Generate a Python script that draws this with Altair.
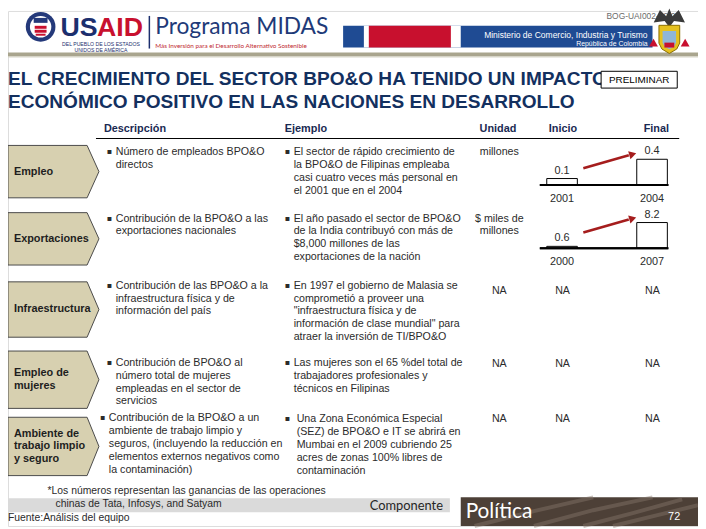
import altair as alt
import pandas as pd

# ---------------- data ----------------
title_lines = ["EL CRECIMIENTO DEL SECTOR BPO&O HA TENIDO UN IMPACTO",
               "ECONÓMICO POSITIVO EN LAS NACIONES EN DESARROLLO"]
col_headers = ["Descripción", "Ejemplo", "Unidad", "Inicio", "Final"]
row_labels = [["Empleo"], ["Exportaciones"], ["Infraestructura"],
              ["Empleo de", "mujeres"], ["Ambiente de", "trabajo limpio", "y seguro"]]
descriptions = [
    ["Número de empleados BPO&O", "directos"],
    ["Contribución de la BPO&O a las", "exportaciones nacionales"],
    ["Contribución de las BPO&O a la", "infraestructura física y de", "información del país"],
    ["Contribución de BPO&O  al", "número total de mujeres", "empleadas en el sector de", "servicios"],
    ["Contribución de la BPO&O a un", "ambiente de trabajo limpio y",
     "seguros, (incluyendo la reducción en", "elementos externos negativos como", "la contaminación)"],
]
examples = [
    ["El sector de rápido crecimiento de", "la BPO&O de Filipinas empleaba",
     "casi cuatro veces más personal en", "el 2001 que en el 2004"],
    ["El año pasado el sector de BPO&O", "de la India contribuyó con más de",
     "$8,000 millones de las", "exportaciones de la nación"],
    ["En 1997 el gobierno de Malasia se", "comprometió a proveer una", "\"infraestructura física y de",
     "información de clase mundial\" para", "atraer la inversión de TI/BPO&O"],
    ["Las mujeres son el 65 %del total de", "trabajadores profesionales y", "técnicos en Filipinas"],
    ["Una Zona Económica Especial", "(SEZ) de BPO&O e IT se abrirá en", "Mumbai en el 2009 cubriendo 25",
     "acres de zonas 100% libres de", "contaminación"],
]
units = [["millones"], ["$ miles de", "millones"], ["NA"], ["NA"], ["NA"]]
inicio_text = [None, None, "NA", "NA", "NA"]
final_text = [None, None, "NA", "NA", "NA"]

emp_years = ["2001", "2004"]
emp_values = [0.1, 0.4]
exp_years = ["2000", "2007"]
exp_values = [0.6, 8.2]

footnote = ["*Los números representan las ganancias de las operaciones",
            "chinas de Tata, Infosys, and Satyam"]
source = "Fuente:Análisis del equipo"

# ---------------- layout ----------------
OX, OY = 8, 8
W, H = 698, 521
BODY = "Liberation Sans, Arial, sans-serif"
HUMAN = "Lato, Open Sans, sans-serif"
NAVY = "#13305f"
TXT = "#2b2b2b"


def T(rows, **kw):
    df = pd.DataFrame(rows, columns=["x", "y", "text"])
    df["x"] = df["x"] - OX
    df["y"] = df["y"] - OY
    kw.setdefault("align", "left")
    kw.setdefault("baseline", "middle")
    return alt.Chart(df).mark_text(**kw).encode(
        x=alt.X("x:Q", scale=None), y=alt.Y("y:Q", scale=None), text="text:N")


def R(rows, **kw):
    df = pd.DataFrame(rows, columns=["x", "x2", "y", "y2"])
    df[["x", "x2"]] = df[["x", "x2"]] - OX
    df[["y", "y2"]] = df[["y", "y2"]] - OY
    return alt.Chart(df).mark_rect(**kw).encode(
        x=alt.X("x:Q", scale=None), x2="x2:Q", y=alt.Y("y:Q", scale=None), y2="y2:Q")


def L(rows, **kw):
    df = pd.DataFrame(rows, columns=["x", "y", "x2", "y2"])
    df[["x", "x2"]] = df[["x", "x2"]] - OX
    df[["y", "y2"]] = df[["y", "y2"]] - OY
    return alt.Chart(df).mark_rule(**kw).encode(
        x=alt.X("x:Q", scale=None), x2="x2:Q", y=alt.Y("y:Q", scale=None), y2="y2:Q")


def P(rows, **kw):
    df = pd.DataFrame(rows, columns=["x", "y"])
    df["x"] = df["x"] - OX
    df["y"] = df["y"] - OY
    return alt.Chart(df).mark_point(**kw).encode(
        x=alt.X("x:Q", scale=None), y=alt.Y("y:Q", scale=None))


def PL(paths, **kw):
    rows = []
    for i, pts in enumerate(paths):
        for j, (x, y) in enumerate(pts):
            rows.append({"id": i, "o": j, "x": x - OX, "y": y - OY})
    return alt.Chart(pd.DataFrame(rows)).mark_line(**kw).encode(
        x=alt.X("x:Q", scale=None), y=alt.Y("y:Q", scale=None), detail="id:N", order="o:Q")


layers = []

# ---- header ----
layers.append(R([[347, 660, 23, 45]], color="#1f4b93"))
layers.append(R([[368, 466, 23, 45]], color="white"))
layers.append(R([[373, 456, 23, 45]], color="#c8102e"))
layers.append(R([[0, 706, 50, 54]], color="#a9a58e"))
layers.append(R([[0, 706, 54, 55]], color="#d8d5c8"))
# USAID seal
layers.append(P([[41, 24]], shape="circle", size=900, filled=True, color="#24397a", opacity=1))
layers.append(P([[41, 24]], shape="circle", size=470, filled=True, color="white", opacity=1))
layers.append(R([[34, 48, 15, 20]], color="#24397a"))
layers.append(R([[35, 47, 23, 26]], color="#c8102e"))
layers.append(R([[35, 47, 27, 30]], color="#c8102e"))
layers.append(R([[36, 46, 31, 33]], color="#c8102e"))
layers.append(T([[61, 25, "US"]], font=BODY, fontSize=27, fontWeight="bold", color="#1c2f6e"))
layers.append(T([[98, 25, "AID"]], font=BODY, fontSize=27, fontWeight="bold", color="#c8102e"))
layers.append(T([[102, 41, "DEL PUEBLO DE LOS ESTADOS"], [102, 47.5, "UNIDOS DE AMÉRICA"]],
                align="center", font=BODY, fontSize=5.2, color="#1c2f6e"))
layers.append(L([[151, 13, 151, 46]], color="#1c2f6e", strokeWidth=1.5))
layers.append(T([[157, 24, "Programa MIDAS"]], font=HUMAN, fontSize=23, color="#1e3a78"))
layers.append(T([[157, 43, "Más Inversión para el Desarrollo Alternativo Sostenible"]],
                font=HUMAN, fontSize=6.4, color="#c0292f"))
layers.append(T([[688, 13, "BOG-UAI002-49-01"]], align="right", font=BODY, fontSize=8.5, color="#6b6b6b"))
layers.append(T([[655, 32, "Ministerio de Comercio, Industria y Turismo"]], align="right",
                font=BODY, fontSize=8.6, color="white"))
layers.append(T([[655, 41, "República de Colombia"]], align="right", font=BODY, fontSize=7, color="white"))
# coat of arms (simplified)
layers.append(P([[677, 15]], shape="M-1,0.3 L-0.6,-0.5 L-0.2,-0.1 L0,-0.6 L0.2,-0.1 L0.6,-0.5 L1,0.3 L0.3,0.2 L0,0.6 L-0.3,0.2 Z",
                size=1000, filled=True, color="#3a3a3a", opacity=1))
SHIELD = "M-0.7,-0.9 L0.7,-0.9 L0.7,0.3 L0.5,0.7 L0,1 L-0.5,0.7 L-0.7,0.3 Z"
layers.append(P([[677, 36]], shape=SHIELD, size=900, filled=True, fill="#e6c11e", stroke="#8a6d00",
                strokeWidth=1, opacity=1))
layers.append(P([[677, 37]], shape=SHIELD, size=380, filled=True, color="#8fb6d8", opacity=1))
layers.append(R([[672, 682, 40, 45]], color="#c8102e"))
layers.append(P([[661, 40], [693, 40]], shape="triangle-up", size=80, filled=True, color="#c8102e", opacity=1))

# ---- title ----
layers.append(T([[8, 77, title_lines[0]], [8, 100, title_lines[1]]],
                font=BODY, fontSize=19.3, fontWeight="bold", color=NAVY))
layers.append(R([[608, 685, 69, 86]], fill="white", stroke="black", strokeWidth=1))
layers.append(T([[646.5, 78, "PRELIMINAR"]], align="center", font=BODY, fontSize=10, color="black"))

# ---- column headers ----
hdr_x = [105, 288, 485, 555, 651]
layers.append(T([[x, 127, t] for x, t in zip(hdr_x, col_headers)],
                font=BODY, fontSize=11, fontWeight="bold", color="#1a2a52"))
layers.append(L([[97, 137, 687, 137]], color="black", strokeWidth=1))

# ---- chevrons (pixel-unit custom symbols: size 4 -> 1 unit = 1 px) ----
row_top = [144, 212, 282, 352, 419]
row_bot = [197, 265, 338, 410, 478]
chev = []
for t, b in zip(row_top, row_bot):
    h = (b - t) / 2
    path = f"M-40,{-h} L40,{-h} L52,0 L40,{h} L-40,{h} Z"
    chev.append({"x": 48 - OX, "y": (t + b) / 2 - OY, "path": path})
layers.append(alt.Chart(pd.DataFrame(chev)).mark_point(
    filled=True, fill="#d7d0b0", stroke="#4a4a4a", strokeWidth=1, opacity=1, fillOpacity=1, size=4).encode(
    x=alt.X("x:Q", scale=None), y=alt.Y("y:Q", scale=None), shape=alt.Shape("path:N", scale=None)))
lab_rows = []
for lines, t, b in zip(row_labels, row_top, row_bot):
    m = (t + b) / 2
    n = len(lines)
    for k, s in enumerate(lines):
        lab_rows.append([14, m + (k - (n - 1) / 2) * 13, s])
layers.append(T(lab_rows, font=BODY, fontSize=11, fontWeight="bold", color="#1e1e1e"))

# ---- description / example columns ----
LH = 13
desc_y0 = [151, 218, 286, 364, 420]
ex_y0 = [151, 218, 286, 364, 421]
desc_bx = [108, 108, 108, 108, 101]
desc_tx = [117, 117, 117, 117, 110]
ex_bx = [288, 288, 288, 288, 288]
ex_tx = [297, 297, 297, 297, 300]
body_rows, bullet_rows = [], []
for i in range(5):
    bullet_rows.append([desc_bx[i], desc_y0[i], "▪"])
    bullet_rows.append([ex_bx[i], ex_y0[i], "▪"])
    for k, s in enumerate(descriptions[i]):
        body_rows.append([desc_tx[i], desc_y0[i] + k * LH, s])
    for k, s in enumerate(examples[i]):
        body_rows.append([ex_tx[i], ex_y0[i] + k * LH, s])
layers.append(T(body_rows, font=BODY, fontSize=10.8, color=TXT))
layers.append(T(bullet_rows, font="DejaVu Sans", fontSize=8, color=TXT))

unit_rows = []
unit_y = [151, 218, 291, 365, 421]
for i in range(5):
    for k, s in enumerate(units[i]):
        unit_rows.append([505, unit_y[i] + k * LH, s])
    if inicio_text[i]:
        unit_rows.append([569, unit_y[i], inicio_text[i]])
    if final_text[i]:
        unit_rows.append([660, unit_y[i], final_text[i]])
layers.append(T(unit_rows, align="center", font=BODY, fontSize=10.8, color=TXT))


# ---- mini bar charts ----
def mini(years, values, base_y, top_y):
    df = pd.DataFrame({"year": years, "value": values,
                       "label": [f"{v:g}" for v in values]})
    df["zero"] = 0.0
    xs = alt.X("year:N", sort=None,
               scale=alt.Scale(domain=years, range=[553 - OX, 675 - OX], paddingInner=0.66, paddingOuter=0),
               axis=None)
    ysc = alt.Scale(domain=[0, max(values)], range=[base_y - OY, top_y - OY], nice=False, zero=True)
    base = alt.Chart(df)
    bars = base.mark_bar(fill="white", stroke="black", strokeWidth=1, opacity=1).encode(
        x=xs, y=alt.Y("value:Q", scale=ysc, axis=None), y2=alt.Y2("zero:Q"))
    axis_line = base.mark_rule(color="black", strokeWidth=2.2).encode(
        x=alt.value(546 - OX), x2=alt.value(676 - OX), y=alt.Y("zero:Q", scale=ysc, axis=None))
    vals = base.mark_text(baseline="bottom", dy=-3, font=BODY, fontSize=11, color=TXT).encode(
        x=xs, y=alt.Y("value:Q", scale=ysc, axis=None), text="label:N")
    yrs = base.mark_text(baseline="middle", dy=14, font=BODY, fontSize=11, color=TXT).encode(
        x=xs, y=alt.Y("zero:Q", scale=ysc, axis=None), text="year:N")
    return alt.layer(bars, axis_line, vals, yrs)


minis = alt.layer(mini(emp_years, emp_values, 184, 158),
                  mini(exp_years, exp_values, 248, 222)).resolve_scale(x="independent", y="independent")
layers.append(minis)

# arrows
layers.append(L([[590, 167, 636, 154], [590, 232, 636, 219]], color="#a51d1d", strokeWidth=2.6))
layers.append(P([[640, 153], [640, 218]], shape="triangle-right", angle=344, size=70, filled=True,
                color="#a51d1d", opacity=1))

# ---- footer ----
layers.append(R([[0, 455, 501, 515]], color="#dadada"))
layers.append(T([[48, 494, footnote[0]], [56, 507, footnote[1]], [8, 521, source]],
                font=BODY, fontSize=10.5, color=TXT))
layers.append(T([[448, 509, "Componente"]], align="right", font=HUMAN, fontSize=13, color="#262626"))
layers.append(R([[466, 706, 500, 529]], color="#4d4037"))
layers.append(PL([[(480, 529), (540, 514), (600, 500)],
                  [(540, 529), (600, 513), (660, 500)],
                  [(590, 529), (640, 516), (690, 502)],
                  [(620, 529), (665, 518), (706, 508)]],
                 color="#85766a", strokeWidth=4, opacity=0.45))
layers.append(T([[471, 515, "Política"]], font=HUMAN, fontSize=21, color="white"))
layers.append(T([[688, 520, "72"]], align="right", font=BODY, fontSize=11, color="white"))

chart = alt.layer(*layers).properties(
    width=W, height=H, autosize=alt.AutoSizeParams(type="none"), padding=0
).configure_view(stroke=None).configure(background="white")

chart.save("out.html", embed_options={"renderer": "svg", "actions": False})
